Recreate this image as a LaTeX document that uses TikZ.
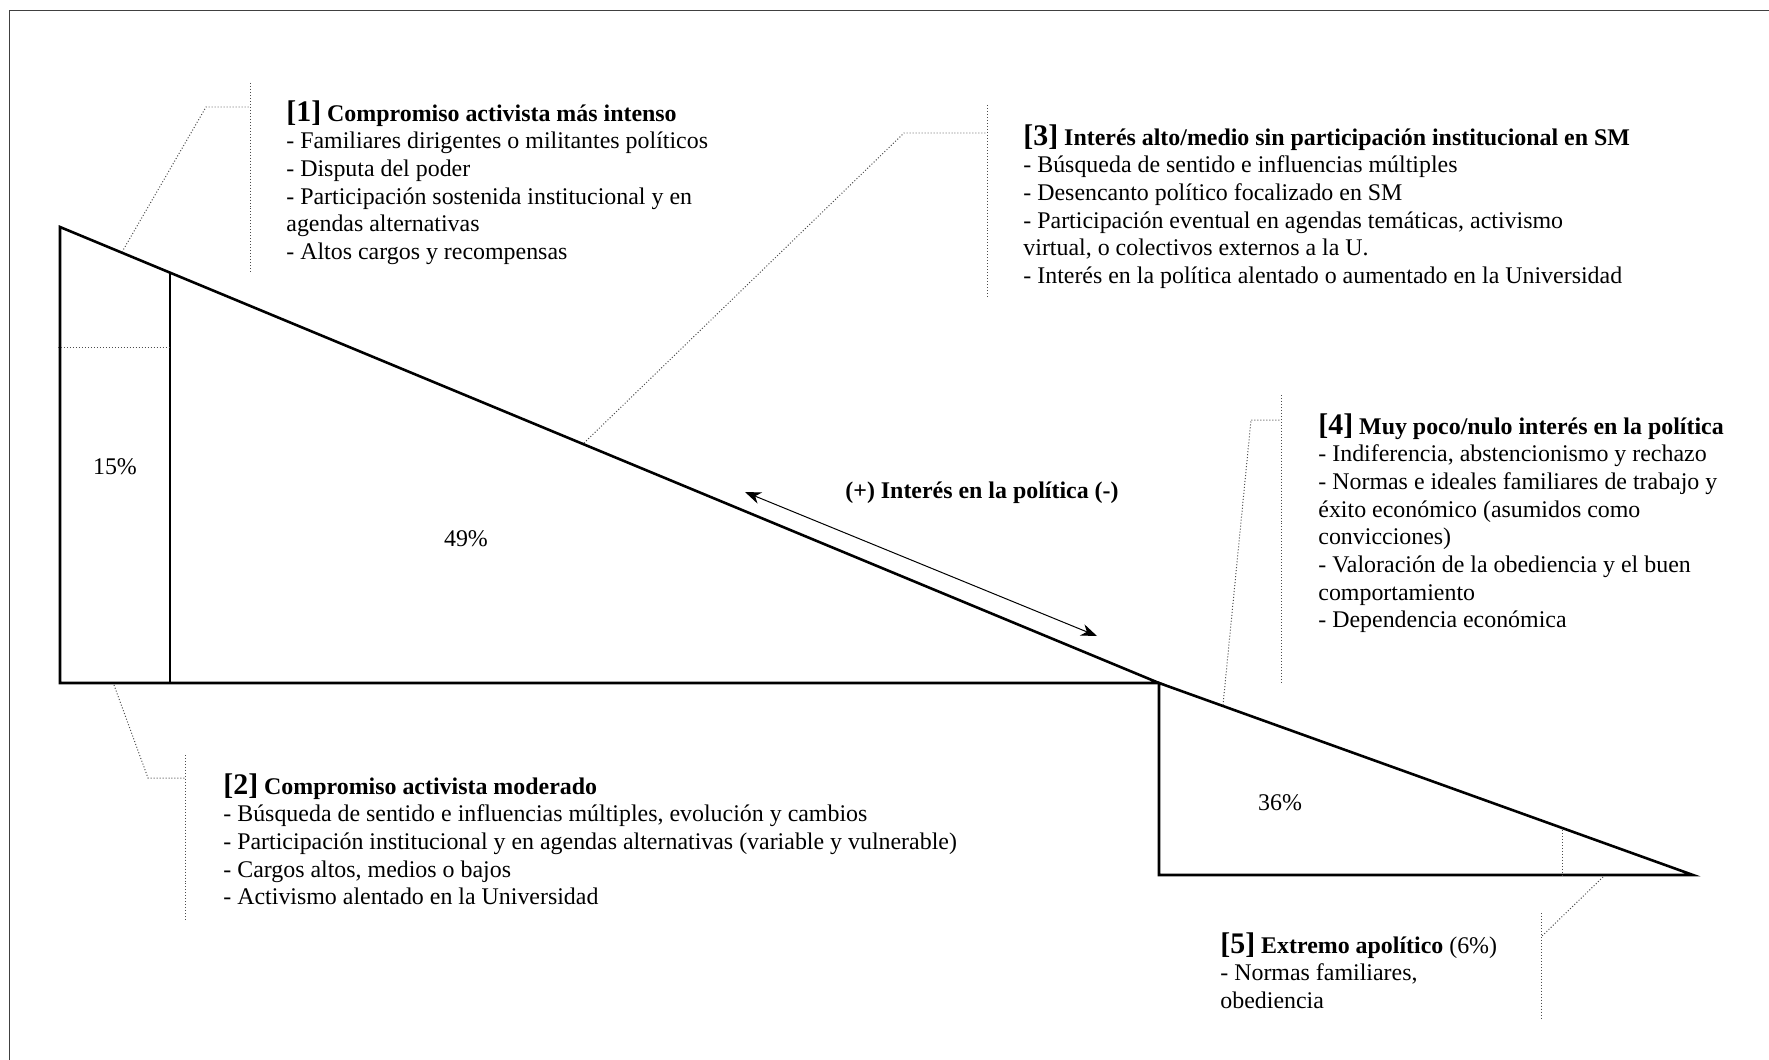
\documentclass[tikz,border=0pt]{standalone}
\usepackage{fontspec}
\setmainfont{Liberation Serif}
\usetikzlibrary{calc,arrows.meta}
\tikzset{>={Stealth[length=8pt,width=6pt,inset=2.5pt]}}
\tikzset{
  edge/.style={line width=1.3pt},
  leader/.style={densely dotted, line width=0.5pt, black!70},
  info/.style={anchor=north west, align=left, inner sep=0pt, font=\fontsize{12}{13.9}\selectfont},
  pct/.style={font=\fontsize{12}{14}\selectfont}
}
\newcommand{\hdr}[2]{{\fontsize{15}{14}\selectfont\bfseries[#1]} \textbf{#2}}

\begin{document}
\begin{tikzpicture}[x=0.502pt,y=-0.502pt]
    \useasboundingbox (0,0) rectangle (1769,1060);
    \draw[black!75, line width=0.6pt] (9.5,1100) -- (9.5,10.3) -- (1800,10.3);

    % the two triangles
    \coordinate (top) at (60,227);
    \coordinate (low) at (60,683);
    \coordinate (mid) at (1159,683);
    \coordinate (foot) at (1159,875);
    \coordinate (tip) at (1693,875);
    \draw[edge] (top) -- (low) -- (mid) -- cycle;
    \draw[edge] ($(top)!0.1!(mid)$) -- ($(low)!0.1!(mid)$);
    \draw[edge] (mid) -- (foot) -- (tip) -- cycle;
    \draw[leader] (58,347) -- (170,347);
    \draw[leader] (1562,830) -- (1562,875);

    \node[pct] (p15) at (115,467) {15\%};
    \node[pct] (p49) at (466,539) {49\%};
    \node[pct] (p36) at (1280,803) {36\%};

    % interest arrow
    \coordinate (arrL) at (745,492);
    \coordinate (arrR) at (1097,636);
    \draw[<->, line width=0.5pt] (arrL) -- (arrR);
    \node[font=\fontsize{12}{14}\selectfont\bfseries] (axis) at (982,493) {(+) Interés en la política (-)};

    % group texts
    \node[info] (g1) at (286,100) {\hdr{1}{Compromiso activista más intenso}\\
      - Familiares dirigentes o militantes políticos\\
      - Disputa del poder\\
      - Participación sostenida institucional y en\\
      agendas alternativas\\
      - Altos cargos y recompensas};
    \node[info] (g2) at (223,773) {\hdr{2}{Compromiso activista moderado}\\
      - Búsqueda de sentido e influencias múltiples, evolución y cambios\\
      - Participación institucional y en agendas alternativas (variable y vulnerable)\\
      - Cargos altos, medios o bajos\\
      - Activismo alentado en la Universidad};
    \node[info] (g3) at (1023,124) {\hdr{3}{Interés alto/medio sin participación institucional en SM}\\
      - Búsqueda de sentido e influencias múltiples\\
      - Desencanto político focalizado en SM\\
      - Participación eventual en agendas temáticas, activismo\\
      virtual, o colectivos externos a la U.\\
      - Interés en la política alentado o aumentado en la Universidad};
    \node[info] (g4) at (1318,413) {\hdr{4}{Muy poco/nulo interés en la política}\\
      - Indiferencia, abstencionismo y rechazo\\
      - Normas e ideales familiares de trabajo y\\
      éxito económico (asumidos como\\
      convicciones)\\
      - Valoración de la obediencia y el buen\\
      comportamiento\\
      - Dependencia económica};
    \node[info] (g5) at (1220,932) {\hdr{5}{Extremo apolítico} (6\%)\\
      - Normas familiares,\\
      obediencia};

    % dotted leaders
    \draw[leader] (122,252) -- (206,107) -- (250,107);
    \draw[leader] (250,83) -- (250,273);
    \draw[leader] (114,685) -- (148,778) -- (185,778);
    \draw[leader] (185,755) -- (185,922);
    \draw[leader] (584,443) -- (904,133) -- (987,133);
    \draw[leader] (987,105) -- (987,298);
    \draw[leader] (1223,705) -- (1251,420) -- (1281,420);
    \draw[leader] (1281,395) -- (1281,682);
    \draw[leader] (1603,877) -- (1541,937);
    \draw[leader] (1541,913) -- (1541,1018);
\end{tikzpicture}
\end{document}
